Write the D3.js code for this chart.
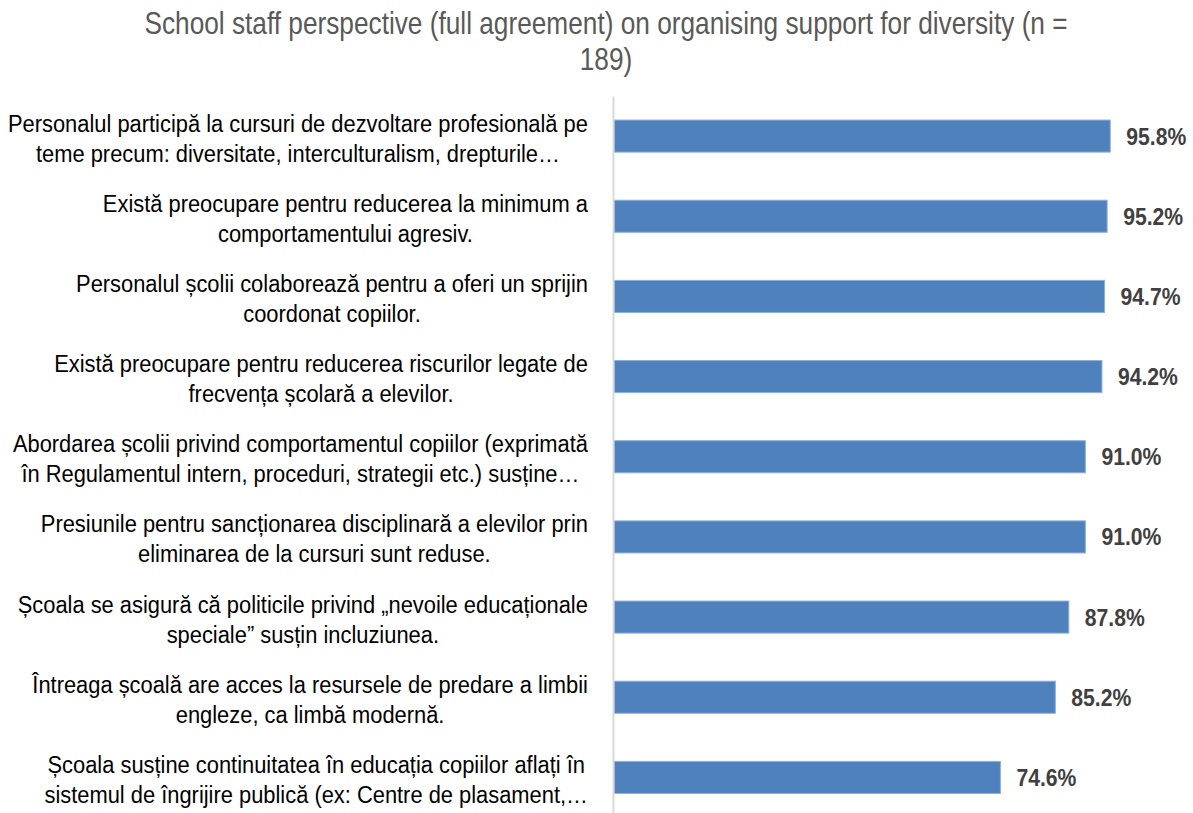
<!DOCTYPE html>
<html>
<head>
<meta charset="utf-8">
<script src="https://cdn.jsdelivr.net/npm/d3@7"></script>
<style>
  html, body { margin: 0; padding: 0; background: #fff; }
  svg { display: block; }
  .narrow { font-family: "Liberation Sans Narrow", "Arial Narrow", "Liberation Sans", Arial, sans-serif; }
</style>
</head>
<body>
<svg id="chart" width="1193" height="813"></svg>
<script>
// Chart text and values
const titleLines = [
  "School staff perspective (full agreement) on organising support for diversity (n =",
  "189)"
];

const categories = [
  ["Personalul participă la cursuri de dezvoltare profesională pe", "teme precum: diversitate, interculturalism, drepturile…"],
  ["Există preocupare pentru reducerea la minimum a", "comportamentului agresiv."],
  ["Personalul școlii colaborează pentru a oferi un sprijin", "coordonat copiilor."],
  ["Există preocupare pentru reducerea riscurilor legate de", "frecvența școlară a elevilor."],
  ["Abordarea școlii privind comportamentul copiilor (exprimată", "în Regulamentul intern, proceduri, strategii etc.) susține…"],
  ["Presiunile pentru sancționarea disciplinară a elevilor prin", "eliminarea de la cursuri sunt reduse."],
  ["Școala se asigură că politicile privind „nevoile educaționale", "speciale” susțin incluziunea."],
  ["Întreaga școală are acces la resursele de predare a limbii", "engleze, ca limbă modernă."],
  ["Școala susține continuitatea în educația copiilor aflați în", "sistemul de îngrijire publică (ex: Centre de plasament,…"]
];

const values = [95.8, 95.2, 94.7, 94.2, 91.0, 91.0, 87.8, 85.2, 74.6];

const valueDomain = [0, 100];

// Layout
const svg = d3.select("#chart");
const plot = { left: 614, right: 1132, top: 96, bottom: 817.5 };
const labelRight = 588;
// horizontal condensing to get a narrow sans look
const condense = { title: 0.82, label: 0.893, value: 0.9 };

const x = d3.scaleLinear().domain(valueDomain).range([plot.left, plot.right]);
const y = d3.scaleBand()
  .domain(d3.range(categories.length))
  .range([plot.top, plot.bottom])
  .paddingInner(0.6)
  .paddingOuter(0.3);

// Title
svg.append("g")
  .attr("transform", `translate(606,0) scale(${condense.title},1)`)
  .append("text")
  .attr("class", "narrow")
  .attr("text-anchor", "middle")
  .attr("fill", "#595959")
  .attr("font-size", 32)
  .selectAll("tspan")
  .data(titleLines)
  .join("tspan")
  .attr("x", 0)
  .attr("y", (d, i) => 34 + i * 36)
  .text(d => d);

// Bars
svg.append("g")
  .selectAll("rect")
  .data(values)
  .join("rect")
  .attr("x", x(0))
  .attr("y", (d, i) => y(i))
  .attr("width", d => x(d) - x(0))
  .attr("height", y.bandwidth())
  .attr("fill", "#4f81bd")
  .attr("stroke", "#8eb0da")
  .attr("stroke-width", 1);

// Vertical category axis line
const axis = svg.append("g")
  .attr("transform", `translate(${plot.left - 1},0)`)
  .call(d3.axisLeft(y).tickSize(0).tickFormat(""));
axis.select(".domain").attr("stroke", "#d9d9d9").attr("stroke-width", 2);

// Value labels
svg.append("g")
  .selectAll("g")
  .data(values)
  .join("g")
  .attr("transform", (d, i) => `translate(${x(d) + 16},${y(i) + y.bandwidth() / 2}) scale(${condense.value},1)`)
  .append("text")
  .attr("class", "narrow")
  .attr("dy", "0.36em")
  .attr("font-size", 23.5)
  .attr("font-weight", "bold")
  .attr("fill", "#404040")
  .text(d => d3.format(".1f")(d) + "%");

// Category labels: lines centred on each other, block right-aligned
const lineGap = 30;
const labelGroups = svg.append("g")
  .selectAll("g")
  .data(categories)
  .join("g");

labelGroups.each(function (lines, i) {
  const g = d3.select(this);
  const cy = y(i) + y.bandwidth() / 2 + 1.7;
  const t = g.append("text")
    .attr("class", "narrow")
    .attr("font-size", 24.5)
    .attr("fill", "#000")
    .attr("text-anchor", "middle");
  const spans = t.selectAll("tspan")
    .data(lines)
    .join("tspan")
    .attr("x", 0)
    .attr("y", (d, j) => cy + (j - (lines.length - 1) / 2) * lineGap)
    .attr("dy", "0.36em")
    .text(d => d);
  let maxW = 0;
  spans.each(function () { maxW = Math.max(maxW, this.getComputedTextLength()); });
  const cx = labelRight - maxW * condense.label / 2;
  g.attr("transform", `translate(${cx},0) scale(${condense.label},1)`);
});
</script>
</body>
</html>
